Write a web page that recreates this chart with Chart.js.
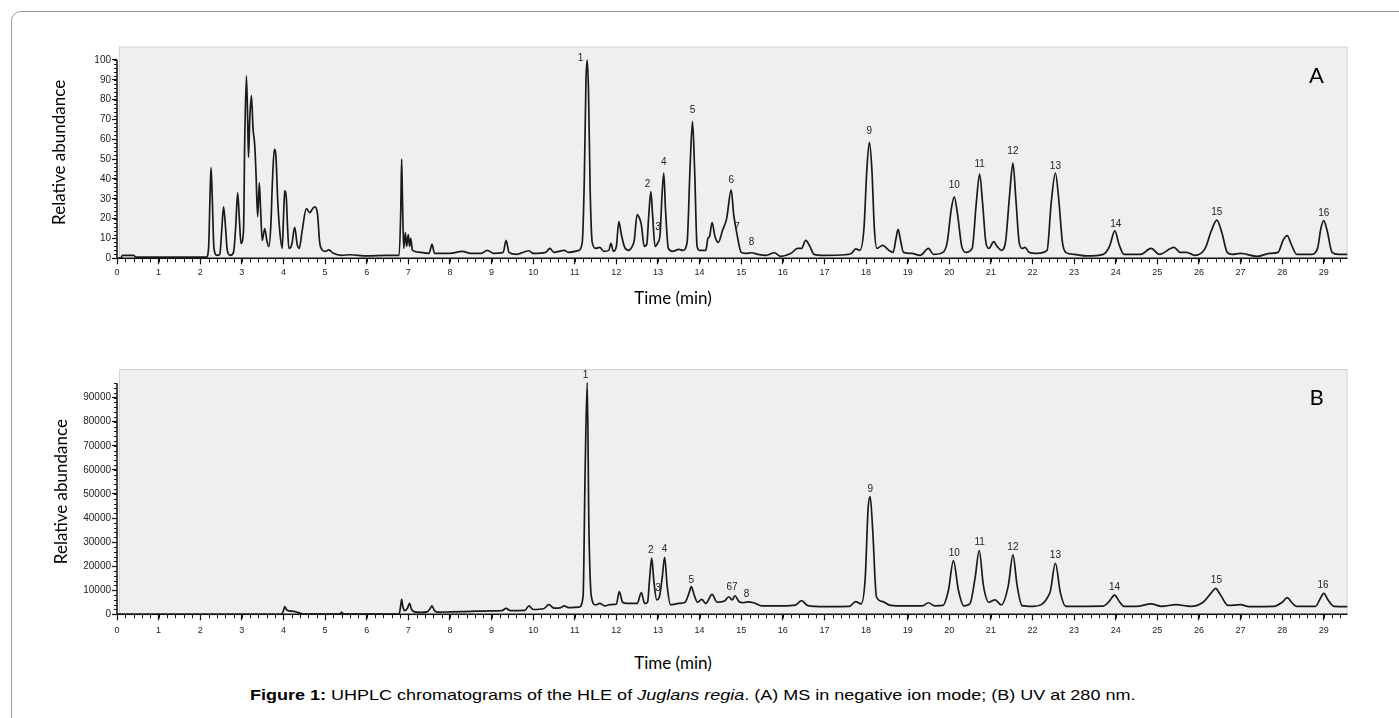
<!DOCTYPE html>
<html>
<head>
<meta charset="utf-8">
<title>UHPLC chromatograms - Juglans regia</title>
<script src="https://cdn.jsdelivr.net/npm/chart.js@4.4.1/dist/chart.umd.min.js"></script>
<style>
  body { margin: 0; background: #fff; width: 1399px; height: 718px; overflow: hidden; position: relative; }
  .marco { position: absolute; left: 11px; top: 11px; width: 1500px; height: 800px; border: 1px solid #9c9c9c; border-radius: 10px; }
  canvas { position: absolute; left: 0; }
  #graficoA { top: 0; }
  #graficoB { top: 320px; }
  .tiempo { position: absolute; left: 573px; width: 200px; text-align: center; font-family: Lato, sans-serif; font-size: 17px; line-height: 20px; }
  .pie { position: absolute; left: 250px; top: 686px; font-family: "Liberation Sans", Arial, sans-serif; font-size: 15px; line-height: 18px; white-space: nowrap; transform: scaleX(1.2); transform-origin: 0 0; }
</style>
</head>
<body>
<div class="marco"></div>
<canvas id="graficoA" width="1399" height="310"></canvas>
<canvas id="graficoB" width="1399" height="330"></canvas>
<div class="tiempo" style="top:288px">Time (min)</div>
<div class="tiempo" style="top:653px">Time (min)</div>
<div class="pie"><b>Figure 1:</b> UHPLC chromatograms of the HLE of <i>Juglans regia</i>. (A) MS in negative ion mode; (B) UV at 280 nm.</div>
<script>
// (A) MS, negative ion mode: [time (min), relative abundance]
const traceA = [
  [0, 0], [0.1, 0.3], [0.13, 1.5], [0.4, 1.5], [0.45, 0.6], [1.0, 0.6], [2.15, 0.6],
  [2.2, 5], [2.24, 35], [2.26, 45.7], [2.29, 30], [2.33, 5], [2.4, 1.5], [2.47, 2],
  [2.52, 15], [2.56, 26], [2.6, 18], [2.65, 4], [2.72, 1.5], [2.8, 3], [2.85, 15],
  [2.9, 33], [2.94, 20], [2.98, 7.5], [3.04, 14], [3.07, 60], [3.11, 92], [3.14, 70],
  [3.16, 51], [3.19, 70], [3.23, 82], [3.27, 65], [3.31, 57], [3.34, 43], [3.38, 21],
  [3.42, 38], [3.45, 25], [3.49, 9], [3.55, 15], [3.6, 9], [3.65, 6], [3.7, 18],
  [3.73, 36], [3.78, 55], [3.82, 51], [3.86, 30], [3.91, 14], [3.97, 5], [4.0, 20],
  [4.03, 34], [4.07, 30], [4.1, 15], [4.13, 5], [4.2, 7], [4.27, 15.6], [4.33, 7],
  [4.38, 5], [4.45, 14], [4.55, 25], [4.63, 23], [4.7, 25], [4.75, 26], [4.82, 22],
  [4.87, 8], [4.92, 4.5], [5.0, 3.5], [5.09, 4.2], [5.2, 2.5], [5.4, 1.5], [5.6, 1.8],
  [6.0, 1.2], [6.5, 1.5], [6.78, 1.5], [6.82, 25], [6.84, 50], [6.86, 30], [6.89, 5],
  [6.93, 13], [6.96, 6], [7.0, 12], [7.03, 6], [7.06, 10], [7.1, 4], [7.3, 3], [7.5, 2.5],
  [7.57, 7], [7.63, 2.5], [8.0, 2.5], [8.3, 3.5], [8.5, 2.5], [8.75, 2.5], [8.9, 4],
  [9.05, 2.5], [9.28, 3], [9.35, 9], [9.42, 3], [9.6, 2], [9.9, 3.8], [10.0, 2.5],
  [10.3, 3], [10.4, 5], [10.5, 3], [10.75, 4], [10.85, 3], [11.1, 4], [11.18, 8],
  [11.23, 40], [11.27, 90], [11.3, 100], [11.33, 85], [11.37, 35], [11.42, 8], [11.5, 5],
  [11.6, 5.5], [11.7, 3.5], [11.82, 4], [11.87, 7.5], [11.93, 3.5], [12.0, 6], [12.06, 18.5],
  [12.12, 12], [12.2, 5.5], [12.3, 4], [12.38, 6], [12.43, 9], [12.5, 22], [12.56, 20],
  [12.6, 17], [12.67, 6], [12.73, 7], [12.78, 22], [12.83, 33.6], [12.87, 22], [12.93, 6],
  [13.0, 8], [13.05, 12], [13.1, 33], [13.14, 43], [13.18, 25], [13.25, 5], [13.35, 3.5],
  [13.5, 4.5], [13.6, 4], [13.7, 8], [13.77, 45], [13.83, 69], [13.88, 45], [13.94, 6],
  [14.0, 4], [14.15, 4], [14.2, 10], [14.24, 11], [14.3, 18], [14.37, 11], [14.45, 8],
  [14.55, 14], [14.65, 20], [14.76, 34.5], [14.82, 22], [14.9, 12], [15.0, 3], [15.1, 2.5],
  [15.25, 2.8], [15.4, 2], [15.6, 1.5], [15.8, 2.8], [15.95, 1], [16.2, 2.5], [16.35, 5],
  [16.45, 5], [16.55, 9], [16.65, 6], [16.75, 2], [17.0, 1.5], [17.5, 1.8], [17.65, 2.5],
  [17.75, 4.8], [17.85, 4], [17.95, 15], [18.02, 45], [18.08, 58.5], [18.14, 45], [18.2, 15],
  [18.26, 5], [18.4, 6.5], [18.55, 4], [18.65, 3], [18.72, 10], [18.77, 14.6], [18.83, 9],
  [18.9, 3], [19.1, 2.5], [19.3, 1.5], [19.5, 5], [19.62, 2], [19.85, 3], [19.95, 8],
  [20.05, 25], [20.12, 31], [20.2, 22], [20.3, 6], [20.4, 3], [20.55, 5], [20.65, 28],
  [20.73, 42.5], [20.8, 28], [20.88, 8], [20.95, 5], [21.07, 8.4], [21.15, 6], [21.25, 4],
  [21.35, 8], [21.45, 32], [21.53, 48], [21.6, 30], [21.68, 8], [21.75, 5], [21.82, 5.5],
  [21.92, 3], [22.1, 2.5], [22.35, 4], [22.45, 28], [22.55, 43], [22.63, 30], [22.72, 8],
  [22.8, 3], [23.0, 2], [23.3, 1.2], [23.7, 2], [23.85, 6], [23.98, 13.8], [24.08, 7],
  [24.2, 2], [24.6, 2], [24.85, 5], [25.05, 2], [25.4, 5.5], [25.55, 3], [25.7, 3],
  [25.9, 1.5], [26.15, 5], [26.3, 14], [26.43, 19.3], [26.55, 13], [26.68, 3], [26.8, 2],
  [27.0, 2.5], [27.4, 1], [27.7, 2.5], [27.9, 3], [28.02, 9], [28.12, 11.4], [28.22, 7],
  [28.35, 2], [28.7, 2], [28.85, 5], [28.93, 15], [29.0, 19], [29.08, 14], [29.2, 3],
  [29.35, 2], [29.57, 2]
];

// (B) UV 280 nm: [time (min), abundance]
const traceB = [
  [0, 0], [3.95, 0], [4.0, 1500], [4.03, 3200], [4.08, 1800], [4.15, 1400], [4.25, 1200],
  [4.4, 500], [4.5, 100], [5.35, 100], [5.4, 800], [5.45, 100], [6.78, 200], [6.82, 4000],
  [6.84, 6200], [6.87, 3000], [6.92, 1500], [6.98, 2500], [7.03, 4500], [7.08, 2000],
  [7.15, 1000], [7.3, 800], [7.45, 1000], [7.53, 2500], [7.57, 3500], [7.62, 1800],
  [7.7, 900], [8.0, 1000], [8.5, 1200], [9.0, 1400], [9.25, 1500], [9.35, 2500],
  [9.45, 1500], [9.8, 1600], [9.9, 3500], [10.0, 2000], [10.25, 2300], [10.38, 4000],
  [10.5, 2600], [10.65, 2700], [10.75, 3500], [10.85, 2800], [11.1, 3000], [11.2, 7300],
  [11.25, 60000], [11.3, 96300], [11.34, 36400], [11.4, 7300], [11.5, 3900], [11.6, 4500],
  [11.72, 3500], [11.85, 4000], [12.0, 4200], [12.07, 9400], [12.15, 5000], [12.25, 4500],
  [12.5, 4500], [12.6, 9000], [12.68, 4500], [12.75, 5000], [12.8, 15000], [12.85, 23300],
  [12.9, 14000], [12.97, 6000], [13.03, 7000], [13.1, 15000], [13.16, 23700], [13.22, 12000],
  [13.3, 4000], [13.5, 4500], [13.65, 5000], [13.75, 9000], [13.8, 11500], [13.87, 8000],
  [13.95, 5000], [14.05, 6200], [14.15, 4500], [14.3, 8300], [14.42, 5000], [14.6, 5500],
  [14.7, 7300], [14.78, 6000], [14.85, 7700], [14.95, 5200], [15.05, 4800], [15.15, 5200],
  [15.3, 4800], [15.5, 3500], [16.0, 3500], [16.3, 3800], [16.45, 5700], [16.6, 3600],
  [17.0, 3200], [17.6, 3300], [17.75, 5300], [17.88, 4300], [17.98, 15000], [18.05, 44000],
  [18.1, 48900], [18.16, 35000], [18.25, 7300], [18.4, 5300], [18.55, 3900], [18.8, 3500],
  [19.35, 3500], [19.5, 4800], [19.65, 3500], [19.85, 3700], [19.98, 10000], [20.1, 22300],
  [20.22, 10000], [20.35, 3500], [20.5, 4500], [20.62, 15000], [20.72, 26500], [20.82, 12000],
  [20.95, 5000], [21.1, 6000], [21.25, 3900], [21.42, 12000], [21.53, 24700], [21.63, 12000],
  [21.75, 3600], [22.0, 3300], [22.42, 9000], [22.55, 21200], [22.67, 9000], [22.8, 3300],
  [23.7, 3400], [23.85, 5500], [23.97, 8000], [24.1, 5000], [24.2, 3300], [24.5, 3300],
  [24.85, 4300], [25.1, 3300], [25.45, 4000], [25.8, 3300], [26.1, 5000], [26.3, 9000],
  [26.4, 10800], [26.52, 8000], [26.7, 3700], [27.0, 4000], [27.2, 3200], [27.8, 3300],
  [28.0, 5000], [28.12, 6900], [28.25, 4500], [28.35, 3300], [28.8, 3300], [28.9, 6000],
  [29.0, 8700], [29.1, 6000], [29.25, 3300], [29.57, 3200]
];

// tick values
const timeTicks = [0, 1, 2, 3, 4, 5, 6, 7, 8, 9, 10, 11, 12, 13, 14, 15, 16, 17, 18, 19, 20, 21, 22, 23, 24, 25, 26, 27, 28, 29];
const yTicksA = [0, 10, 20, 30, 40, 50, 60, 70, 80, 90, 100];
const yTicksB = [0, 10000, 20000, 30000, 40000, 50000, 60000, 70000, 80000, 90000];

// peak numbers and where their labels sit (time, height)
const peaksA = ['1', '2', '3', '4', '5', '6', '7', '8', '9', '10', '11', '12', '13', '14', '15', '16'];
const peakTimesA = [11.14, 12.75, 13.0, 13.14, 13.83, 14.76, 14.9, 15.25, 18.08, 20.12, 20.73, 21.53, 22.55, 24.0, 26.43, 29.0];
const peakLabelYA = [101, 37.5, 15.6, 48.4, 74.5, 39.5, 15.5, 8, 64, 37, 47.4, 53.8, 46.2, 17.3, 23, 22.7];

const peaksB = ['1', '2', '3', '4', '5', '67', '8', '9', '10', '11', '12', '13', '14', '15', '16'];
const peakTimesB = [11.26, 12.83, 13.0, 13.16, 13.8, 14.78, 15.13, 18.1, 20.12, 20.73, 21.53, 22.55, 23.97, 26.42, 28.98];
const peakLabelYB = [99400, 26700, 10800, 27000, 14300, 11100, 8300, 51900, 25300, 29900, 28000, 24400, 11100, 14300, 11900];

function pluginPanel(letra, nombres, tiempos, alturas, yTop, xMinor, yMinor) {
    return {
        id: 'panel' + letra,
        beforeDraw(chart) {
            const { ctx, chartArea: a } = chart;
            ctx.save();
            ctx.fillStyle = '#efefef';
            ctx.fillRect(a.left + 2, a.top, a.right - a.left - 2, a.bottom - a.top);
            ctx.strokeStyle = '#d4d4d4';
            ctx.lineWidth = 1;
            ctx.strokeRect(a.left + 2.5, a.top + 0.5, a.right - a.left - 3, a.bottom - a.top);
            ctx.restore();
        },
        afterDraw(chart) {
            const { ctx, chartArea: a, scales: { x, y } } = chart;
            const x0 = x.getPixelForValue(0);
            const y0 = y.getPixelForValue(0);
            ctx.save();
            ctx.strokeStyle = '#111';
            ctx.lineWidth = 1.5;
            ctx.beginPath();
            ctx.moveTo(x0, y0);
            ctx.lineTo(a.right, y0);
            ctx.moveTo(x0, y0);
            ctx.lineTo(x0, y.getPixelForValue(yTop));
            ctx.stroke();

            // minor ticks
            ctx.lineWidth = 1;
            ctx.beginPath();
            for (let i = 0; i * xMinor <= x.max; i++) {
                const px = Math.round(x.getPixelForValue(i * xMinor)) + 0.5;
                ctx.moveTo(px, y0);
                ctx.lineTo(px, y0 + 4);
            }
            for (let i = 0; i * yMinor <= yTop; i++) {
                const py = Math.round(y.getPixelForValue(i * yMinor)) + 0.5;
                ctx.moveTo(x0, py);
                ctx.lineTo(x0 - 3, py);
            }
            ctx.stroke();

            ctx.fillStyle = '#222';
            ctx.font = '10px "Liberation Sans", Arial, sans-serif';
            ctx.textAlign = 'center';
            ctx.textBaseline = 'middle';
            nombres.forEach((n, i) => {
                ctx.fillText(n, x.getPixelForValue(tiempos[i]), y.getPixelForValue(alturas[i]));
            });

            ctx.fillStyle = '#000';
            ctx.font = '22px Lato, sans-serif';
            ctx.fillText(letra, a.right - 31, a.top + 29);
            ctx.restore();
        }
    };
}

function grafico(id, traza, yTicks, plugin, cfg) {
    const ctx = document.getElementById(id);
    return new Chart(ctx, {
        type: 'line',
        data: {
            datasets: [{
                data: traza.map(p => ({ x: p[0], y: p[1] })),
                borderColor: '#1a1a1a',
                borderWidth: 1.7,
                pointRadius: 0,
                cubicInterpolationMode: 'monotone',
                fill: false
            }]
        },
        options: {
            responsive: false,
            animation: false,
            events: [],
            layout: { padding: { left: 0, right: 51.5, top: cfg.padTop, bottom: 0 } },
            plugins: { legend: { display: false }, tooltip: { enabled: false } },
            scales: {
                x: {
                    type: 'linear',
                    min: 0,
                    max: 29.57,
                    border: { display: false },
                    grid: { drawOnChartArea: false, tickLength: 6, color: '#111', tickWidth: 1.2 },
                    ticks: {
                        autoSkip: false,
                        maxRotation: 0,
                        padding: cfg.xPad,
                        color: '#222',
                        font: { family: 'Liberation Sans', size: 9 }
                    },
                    afterBuildTicks: s => { s.ticks = timeTicks.map(v => ({ value: v })); },
                    afterFit: s => { s.height = cfg.xHeight; }
                },
                y: {
                    min: 0,
                    max: cfg.yMax,
                    border: { display: false },
                    grid: { drawOnChartArea: false, tickLength: 5, color: '#111', tickWidth: 1.2 },
                    ticks: {
                        autoSkip: false,
                        padding: 1,
                        color: '#222',
                        font: { family: 'Liberation Sans', size: 10 },
                        callback: v => String(v)
                    },
                    title: {
                        display: true,
                        text: 'Relative abundance',
                        color: '#000',
                        font: { family: 'Lato', size: 17 },
                        padding: { top: cfg.titlePad, bottom: 0 }
                    },
                    afterBuildTicks: s => { s.ticks = yTicks.map(v => ({ value: v })); },
                    afterFit: s => { s.width = 117; }
                }
            }
        },
        plugins: [plugin]
    });
}

grafico('graficoA', traceA, yTicksA,
    pluginPanel('A', peaksA, peakTimesA, peakLabelYA, 100, 0.2, 2),
    { padTop: 46.5, xHeight: 51.7, xPad: 3, yMax: 106.8, titlePad: 49.5 });

grafico('graficoB', traceB, yTicksB,
    pluginPanel('B', peaksB, peakTimesB, peakLabelYB, 96000, 0.2, 2000),
    { padTop: 49, xHeight: 35.7, xPad: 5, yMax: 101900, titlePad: 51.5 });
</script>
</body>
</html>
